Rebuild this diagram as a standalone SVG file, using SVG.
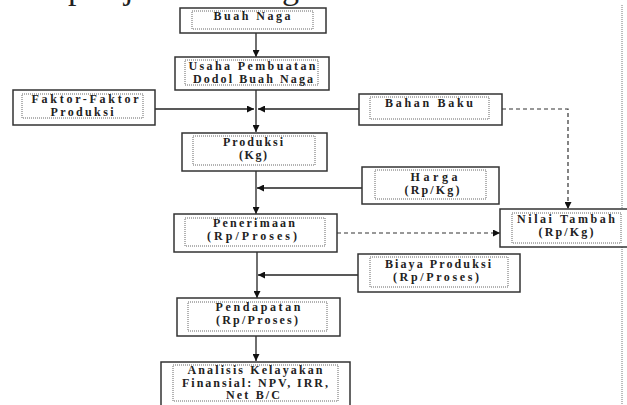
<svg xmlns="http://www.w3.org/2000/svg" width="627" height="405" viewBox="0 0 627 405">
<style>
.outer{fill:#fff;stroke:#333;stroke-width:1.5}
.inner{fill:none;stroke:#666;stroke-width:1;stroke-dasharray:1,1}
.t{font-family:"Liberation Serif","Times New Roman",serif;font-size:12px;font-weight:bold;fill:#222;text-anchor:middle}
.ln{fill:none;stroke:#222;stroke-width:1.3}
.dash{fill:none;stroke:#333;stroke-width:1.2;stroke-dasharray:4,3}
.top{font-family:"Liberation Serif","Times New Roman",serif;font-size:34px;fill:#222}
</style>
<defs>
<marker id="ah" viewBox="0 0 10 10" refX="10" refY="5" markerWidth="7" markerHeight="7" markerUnits="userSpaceOnUse" orient="auto">
<path d="M0,0 L10,5 L0,10 z" fill="#111"/>
</marker>
</defs>
<rect width="627" height="405" fill="#fff"/>
<g id="page-fragments">
<text class="top" x="68" y="-1">p</text>
<text class="top" x="124" y="-1">j</text>
<text class="top" x="282" y="-1">g</text>
<line x1="622" y1="5" x2="622" y2="405" stroke="#777" stroke-width="1" stroke-dasharray="1,1"/>
</g>
<g id="connectors">
<line class="ln" x1="256" y1="33" x2="256" y2="57" marker-end="url(#ah)"/>
<line class="ln" x1="256" y1="90" x2="256" y2="132" marker-end="url(#ah)"/>
<line class="ln" x1="155" y1="109" x2="254" y2="109" marker-end="url(#ah)"/>
<line class="ln" x1="359" y1="109" x2="258" y2="109" marker-end="url(#ah)"/>
<line class="ln" x1="256" y1="171" x2="256" y2="214" marker-end="url(#ah)"/>
<line class="ln" x1="362" y1="188" x2="257" y2="188" marker-end="url(#ah)"/>
<line class="ln" x1="257" y1="252" x2="257" y2="298" marker-end="url(#ah)"/>
<line class="ln" x1="358" y1="275" x2="258" y2="275" marker-end="url(#ah)"/>
<line class="ln" x1="256" y1="336" x2="256" y2="361" marker-end="url(#ah)"/>
<path class="dash" d="M502,109 H568 V209" marker-end="url(#ah)"/>
<line class="dash" x1="337" y1="233" x2="500" y2="233" marker-end="url(#ah)"/>
</g>
<g id="buah-naga">
<rect class="outer" x="180" y="8" width="146" height="25"/>
<rect class="inner" x="192" y="11" width="121" height="18"/>
<text class="t" x="252" y="20" textLength="77" lengthAdjust="spacing">Buah Naga</text>
</g>
<g id="usaha">
<rect class="outer" x="175" y="57" width="154" height="33"/>
<rect class="inner" x="185" y="60" width="133" height="25"/>
<text class="t" x="252" y="70" textLength="127" lengthAdjust="spacing">Usaha Pembuatan</text>
<text class="t" x="253" y="83" textLength="120" lengthAdjust="spacing">Dodol Buah Naga</text>
</g>
<g id="faktor">
<rect class="outer" x="13" y="90" width="142" height="35"/>
<rect class="inner" x="22" y="94" width="121" height="24"/>
<text class="t" x="85" y="103" textLength="107" lengthAdjust="spacing">Faktor-Faktor</text>
<text class="t" x="82" y="116" textLength="63" lengthAdjust="spacing">Produksi</text>
</g>
<g id="bahan-baku">
<rect class="outer" x="359" y="94" width="143" height="31"/>
<rect class="inner" x="370" y="97" width="119" height="22"/>
<text class="t" x="429" y="107" textLength="88" lengthAdjust="spacing">Bahan Baku</text>
</g>
<g id="produksi">
<rect class="outer" x="182" y="133" width="145" height="38"/>
<rect class="inner" x="193" y="136" width="122" height="29"/>
<text class="t" x="253" y="146" textLength="60" lengthAdjust="spacing">Produksi</text>
<text class="t" x="253" y="159" textLength="28" lengthAdjust="spacing">(Kg)</text>
</g>
<g id="harga">
<rect class="outer" x="362" y="167" width="137" height="37"/>
<rect class="inner" x="375" y="170" width="111" height="29"/>
<text class="t" x="434" y="181" textLength="47" lengthAdjust="spacing">Harga</text>
<text class="t" x="432" y="194" textLength="55" lengthAdjust="spacing">(Rp/Kg)</text>
</g>
<g id="penerimaan">
<rect class="outer" x="174" y="214" width="163" height="38"/>
<rect class="inner" x="185" y="218" width="140" height="28"/>
<text class="t" x="254" y="227" textLength="82" lengthAdjust="spacing">Penerimaan</text>
<text class="t" x="252" y="240" textLength="90" lengthAdjust="spacing">(Rp/Proses)</text>
</g>
<g id="nilai-tambah">
<rect class="outer" x="500" y="209" width="135" height="38"/>
<rect class="inner" x="512" y="213" width="109" height="30"/>
<text class="t" x="566" y="223" textLength="98" lengthAdjust="spacing">Nilai Tambah</text>
<text class="t" x="566" y="236" textLength="55" lengthAdjust="spacing">(Rp/Kg)</text>
</g>
<g id="biaya-produksi">
<rect class="outer" x="358" y="254" width="162" height="38"/>
<rect class="inner" x="370" y="257" width="138" height="30"/>
<text class="t" x="438" y="268" textLength="106" lengthAdjust="spacing">Biaya Produksi</text>
<text class="t" x="436" y="281" textLength="86" lengthAdjust="spacing">(Rp/Proses)</text>
</g>
<g id="pendapatan">
<rect class="outer" x="177" y="298" width="163" height="38"/>
<rect class="inner" x="188" y="302" width="139" height="29"/>
<text class="t" x="258" y="311" textLength="85" lengthAdjust="spacing">Pendapatan</text>
<text class="t" x="257" y="324" textLength="82" lengthAdjust="spacing">(Rp/Proses)</text>
</g>
<g id="analisis">
<rect class="outer" x="161" y="362" width="189" height="50"/>
<rect class="inner" x="173" y="365" width="165" height="36"/>
<text class="t" x="255" y="374" textLength="135" lengthAdjust="spacing">Analisis Kelayakan</text>
<text class="t" x="255" y="386.5" textLength="146" lengthAdjust="spacing">Finansial: NPV, IRR,</text>
<text class="t" x="253" y="399" textLength="54" lengthAdjust="spacing">Net B/C</text>
</g>
</svg>
